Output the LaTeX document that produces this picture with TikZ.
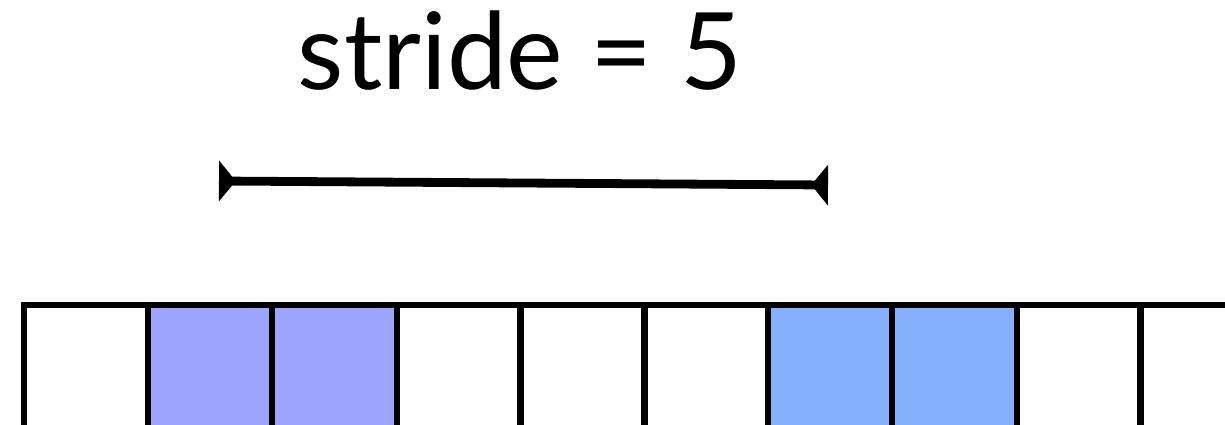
\documentclass[tikz,border=0pt]{standalone}
\usepackage{fontspec}
\setmainfont{Lato}
\usetikzlibrary{arrows.meta}
\definecolor{violetcell}{HTML}{9CA4FC}
\definecolor{bluecell}{HTML}{86AFFC}

\begin{document}
\begin{tikzpicture}[x=0.025cm, y=-0.025cm,
    cell/.style={draw, line width=0.15cm, minimum width=3.1cm, minimum height=3.1cm,
      inner sep=0pt, outer sep=0pt},
    span/.style={line width=0.22cm,
      {Triangle[reversed, length=0.42cm, width=1cm]}-{Triangle[reversed, length=0.42cm, width=1cm]}}]
    \useasboundingbox (0,0) rectangle (1225,424);
    \clip (0,0) rectangle (1225,424);

    % title
    \node[anchor=base, inner sep=0pt, font=\fontsize{76}{84}\selectfont] (title) at (520,89) {stride = 5};

    % end points of the stride
    \coordinate (from) at (219,181);
    \coordinate (to) at (828,185);
    \draw[span] (from) -- (to);

    % the row of cells
    \foreach \i in {0,...,9} {
        \node[cell] (c\i) at (24.5+124*\i+62, 305+62) {};
    }
    \node[cell, fill=violetcell] at (c1) {};
    \node[cell, fill=violetcell] at (c2) {};
    \node[cell, fill=bluecell] at (c6) {};
    \node[cell, fill=bluecell] at (c7) {};
\end{tikzpicture}
\end{document}
